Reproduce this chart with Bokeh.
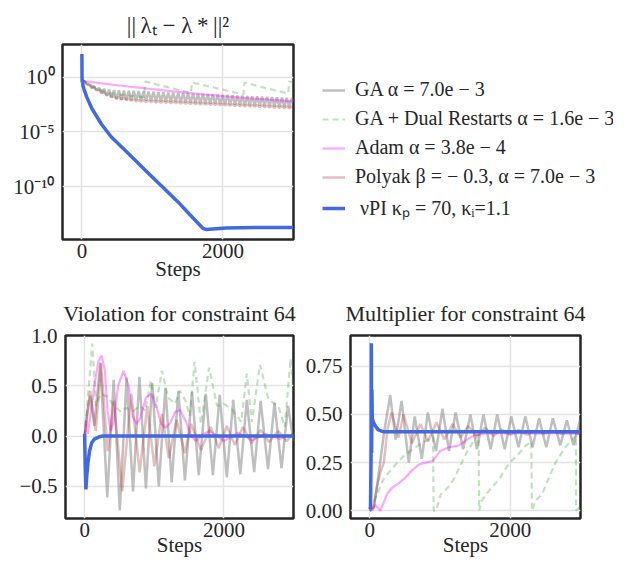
from bokeh.plotting import figure
from bokeh.models import Range1d, FixedTicker, CustomJSTickFormatter, Legend, LegendItem, Spacer
from bokeh.layouts import column, row
from bokeh.embed import file_html
from bokeh.resources import INLINE

FONT = "Liberation Serif"
TXT = "#262626"

# ---------------- data: top panel, ||lambda_t - lambda*||^2 (log10 values) ----------------
dist_steps = [0, 35, 70, 105, 140, 175, 210, 245, 280, 315, 350, 385, 420, 455, 490, 525, 560, 595,
              630, 665, 700, 735, 770, 805, 840, 875, 910, 945, 980, 1015, 1050, 1085, 1120, 1155,
              1190, 1225, 1260, 1295, 1330, 1365, 1400, 1435, 1470, 1505, 1540, 1575, 1610, 1645,
              1680, 1715, 1750, 1785, 1820, 1855, 1890, 1925, 1960, 1995, 2030, 2065, 2100, 2135,
              2170, 2205, 2240, 2275, 2310, 2345, 2380, 2415, 2450, 2485, 2520, 2555, 2590, 2625,
              2660, 2695, 2730, 2765, 2800, 2835, 2870, 2905, 2940, 2975, 3000]
ga_dist_log = [-0.25, -0.40, -0.68, -0.65, -1.00, -0.82, -1.25, -0.97, -1.52, -1.07, -1.72, -1.15,
               -1.89, -1.20, -2.02, -1.21, -2.06, -1.23, -2.08, -1.25, -2.10, -1.27, -2.12, -1.29,
               -2.14, -1.31, -2.16, -1.33, -2.18, -1.35, -2.20, -1.37, -2.22, -1.39, -2.24, -1.41,
               -2.26, -1.43, -2.28, -1.45, -2.30, -1.47, -2.32, -1.49, -2.34, -1.51, -2.36, -1.53,
               -2.38, -1.55, -2.40, -1.57, -2.42, -1.59, -2.44, -1.61, -2.46, -1.63, -2.48, -1.65,
               -2.50, -1.67, -2.52, -1.69, -2.54, -1.71, -2.56, -1.73, -2.58, -1.75, -2.60, -1.77,
               -2.62, -1.79, -2.64, -1.81, -2.66, -1.83, -2.68, -1.85, -2.70, -1.87, -2.72, -1.89,
               -2.74, -1.91, -2.30]
polyak_dist_log = [-0.25, -0.42, -0.62, -0.75, -0.92, -1.00, -1.15, -1.20, -1.38, -1.42, -1.60, -1.62,
                   -1.78, -1.78, -1.95, -1.84, -2.05, -1.90, -2.11, -1.96, -2.17, -2.02, -2.23, -2.07,
                   -2.26, -2.09, -2.28, -2.11, -2.30, -2.13, -2.32, -2.15, -2.34, -2.17, -2.36, -2.19,
                   -2.38, -2.21, -2.40, -2.23, -2.42, -2.25, -2.44, -2.27, -2.46, -2.29, -2.48, -2.31,
                   -2.50, -2.33, -2.52, -2.35, -2.54, -2.37, -2.56, -2.39, -2.58, -2.41, -2.60, -2.43,
                   -2.62, -2.45, -2.64, -2.47, -2.66, -2.49, -2.68, -2.51, -2.70, -2.53, -2.72, -2.55,
                   -2.74, -2.57, -2.76, -2.59, -2.78, -2.61, -2.80, -2.63, -2.82, -2.65, -2.84, -2.67,
                   -2.86, -2.69, -2.78]
gadr_dist_steps = [0, 185, 417, 700, 880, 900, 1200, 1545, 1560, 1900, 2290, 2305, 2600, 2925, 2940, 3000]
gadr_dist_log = [-0.25, -0.97, -1.50, -1.75, -1.85, -0.42, -0.90, -1.45, -0.50, -1.00, -1.60, -0.50,
                 -1.00, -1.50, -0.40, -0.50]
adam_dist_steps = [0, 500, 1000, 1500, 2000, 2500, 3000]
adam_dist_log = [-0.35, -0.75, -1.10, -1.45, -1.75, -2.00, -2.22]
nupi_dist_steps = [0, 2, 5, 10, 15, 30, 69, 139, 278, 417, 648, 880, 1111, 1366, 1532, 1718, 1764,
                   2042, 2500, 3000]
nupi_dist_log = [2.1, 0.0, -0.5, -0.3, -0.8, -1.1, -1.83, -2.85, -4.3, -5.46, -6.9, -8.37, -9.82,
                 -11.4, -12.55, -13.8, -13.88, -13.75, -13.7, -13.7]

# ---------------- data: violation for constraint 64 ----------------
ga_viol_steps = [0, 40, 80, 140, 225, 325, 417, 505, 602, 695, 787, 880, 970, 1065, 1160, 1250, 1347,
                 1440, 1542, 1639, 1740, 1842, 1940, 2042, 2134, 2236, 2329, 2435, 2528, 2634, 2727,
                 2828, 2921, 3000]
ga_viol = [0.0, 0.25, 0.40, 0.10, 0.73, -0.61, 0.56, -0.74, 0.58, -0.55, 0.59, -0.52, 0.53, -0.50,
           0.48, -0.46, 0.45, -0.44, 0.44, -0.39, 0.42, -0.39, 0.41, -0.41, 0.36, -0.38, 0.36,
           -0.36, 0.35, -0.33, 0.33, -0.32, 0.30, -0.05]
gadr_viol_steps = [0, 60, 110, 160, 230, 330, 420, 520, 600, 700, 800, 870, 950, 1020, 1110, 1200,
                   1300, 1370, 1450, 1510, 1579, 1671, 1787, 1903, 2000, 2111, 2250, 2329, 2402, 2518,
                   2643, 2782, 2875, 2958, 3000]
gadr_viol = [0.0, 0.50, 0.92, 0.30, 0.42, 0.39, 0.30, 0.24, 0.28, 0.25, 0.30, 0.25, 0.55, 0.28, 0.65,
             0.38, 0.32, 0.45, 0.35, 0.20, 0.74, 0.12, 0.68, 0.30, 0.32, 0.27, 0.14, 0.62, 0.14, 0.71,
             0.36, 0.30, 0.09, 0.77, 0.45]
adam_viol_steps = [0, 20, 45, 90, 150, 200, 245, 290, 330, 375, 420, 480, 560, 630, 690, 745, 800, 880,
                   950, 1030, 1100, 1160, 1230, 1300, 1370, 1450, 1530, 1600, 1700, 1800, 1900, 2000,
                   2100, 2200, 2300, 2400, 2500, 2600, 2700, 2800, 2900, 3000]
adam_viol = [0.0, 0.15, 0.02, 0.25, 0.55, 0.75, 0.80, 0.65, 0.25, 0.05, 0.15, 0.50, 0.65, 0.50, 0.20,
             0.12, 0.18, 0.38, 0.42, 0.30, 0.12, 0.08, 0.13, 0.24, 0.26, 0.15, 0.0, -0.05, 0.02, 0.05,
             0.0, -0.05, -0.01, 0.03, 0.0, -0.04, -0.01, 0.02, 0.0, -0.03, 0.0, 0.01]
polyak_viol_steps = [0, 80, 160, 235, 330, 420, 540, 670, 790, 900, 1000, 1110, 1210, 1320, 1440, 1530,
                     1670, 1810, 1926, 2042, 2157, 2273, 2400, 2528, 2650, 2780, 2900, 3000]
polyak_viol = [0.0, 0.45, 0.05, 0.72, -0.15, 0.35, -0.55, 0.42, -0.36, 0.30, -0.30, 0.22, -0.22, 0.16,
               -0.17, 0.12, -0.14, 0.09, -0.12, 0.10, -0.09, 0.09, -0.07, 0.06, -0.06, 0.05, -0.05, 0.03]
nupi_viol_steps = [0, 8, 18, 30, 50, 70, 100, 140, 200, 260, 3000]
nupi_viol = [0.02, -0.30, -0.53, -0.40, -0.25, -0.15, -0.07, -0.03, -0.01, 0.0, 0.0]

# ---------------- data: multiplier for constraint 64 ----------------
ga_mult_steps = [0, 60, 130, 200, 290, 368, 452, 555, 639, 741, 825, 942, 1035, 1128, 1221, 1330, 1432,
                 1525, 1618, 1720, 1814, 1921, 2014, 2117, 2214, 2317, 2410, 2513, 2606, 2713, 2806,
                 2900, 2993, 3000]
ga_mult = [0.0, 0.02, 0.20, 0.40, 0.60, 0.37, 0.57, 0.25, 0.49, 0.27, 0.51, 0.31, 0.53, 0.31, 0.51,
           0.32, 0.50, 0.32, 0.50, 0.32, 0.50, 0.32, 0.49, 0.33, 0.49, 0.33, 0.48, 0.33, 0.48, 0.34,
           0.47, 0.34, 0.47, 0.46]
gadr_mult_steps = [0, 103, 196, 336, 499, 685, 825, 900, 909, 942, 1012, 1105, 1198, 1291, 1385, 1478,
                   1550, 1557, 1595, 1665, 1760, 1851, 1991, 2107, 2224, 2300, 2308, 2363, 2457, 2550,
                   2643, 2783, 2923, 2935, 2937, 2993, 3000]
gadr_mult = [0.0, 0.086, 0.165, 0.228, 0.291, 0.338, 0.369, 0.385, 0.0, 0.0, 0.086, 0.118, 0.165,
             0.236, 0.307, 0.362, 0.393, 0.0, 0.053, 0.09, 0.13, 0.17, 0.25, 0.29, 0.34, 0.36, 0.0,
             0.053, 0.09, 0.17, 0.25, 0.33, 0.385, 0.39, 0.0, 0.02, 0.03]
adam_mult_steps = [0, 40, 80, 150, 250, 320, 400, 500, 600, 700, 800, 900, 1000, 1130, 1270, 1385, 1480,
                   1620, 1800, 2000, 2200, 2400, 2600, 2800, 3000]
adam_mult = [0.0, 0.01, 0.03, 0.0, 0.09, 0.12, 0.14, 0.17, 0.21, 0.24, 0.25, 0.26, 0.31, 0.33, 0.34,
             0.37, 0.39, 0.40, 0.405, 0.40, 0.405, 0.40, 0.405, 0.40, 0.40]
polyak_mult_steps = [0, 50, 100, 150, 200, 250, 310, 410, 480, 600, 720, 830, 950, 1060, 1180, 1290,
                     1400, 1520, 1640, 1760, 1880, 2000, 2120, 2240, 2360, 2480, 2600, 2720, 2840, 2960,
                     3000]
polyak_mult = [0.0, 0.01, 0.12, 0.20, 0.25, 0.42, 0.51, 0.38, 0.50, 0.35, 0.45, 0.36, 0.46, 0.37, 0.45,
               0.38, 0.44, 0.39, 0.43, 0.39, 0.42, 0.395, 0.42, 0.395, 0.415, 0.40, 0.415, 0.40, 0.41,
               0.40, 0.40]
nupi_mult_steps = [0, 10, 18, 22, 26, 30, 35, 50, 80, 120, 200, 400, 3000]
nupi_mult = [0.02, 0.01, 0.30, 0.87, 0.30, 0.63, 0.48, 0.46, 0.44, 0.42, 0.41, 0.41, 0.41]

legend_labels = ["GA \u03b1 = 7.0e \u2212 3",
                 "GA + Dual Restarts \u03b1 = 1.6e \u2212 3",
                 "Adam \u03b1 = 3.8e \u2212 4",
                 "Polyak \u03b2 = \u2212 0.3, \u03b1 = 7.0e \u2212 3",
                 " \u03bdPI \u03ba\u209a = 70, \u03ba\u1d62=1.1"]

STY = {
    "ga": dict(line_color="#7f7f7f", line_alpha=0.5, line_width=2.5),
    "gadr": dict(line_color="#2ca02c", line_alpha=0.3, line_width=2.2, line_dash="6 4"),
    "adam": dict(line_color="#ff00ff", line_alpha=0.35, line_width=2.2),
    "polyak": dict(line_color="#a52a2a", line_alpha=0.3, line_width=2.5),
    "nupi": dict(line_color="#4169e1", line_alpha=1.0, line_width=3.5),
}
ORDER = ["ga", "gadr", "adam", "polyak", "nupi"]

SUP = ("const e = Math.round(Math.log10(tick));"
       "const m = {'-':'\u207b','0':'\u2070','1':'\u00b9','2':'\u00b2','3':'\u00b3','4':'\u2074',"
       "'5':'\u2075','6':'\u2076','7':'\u2077','8':'\u2078','9':'\u2079'};"
       "return '10' + String(e).split('').map(c => m[c]).join('');")


def make(width, height, yr, yticks, ylog, fmt, title, left, right, top, bottom,
         title_standoff, title_size, label_standoff):
    p = figure(width=width, height=height, x_range=Range1d(-275, 3000), y_range=yr,
               y_axis_type="log" if ylog else "linear",
               output_backend="svg", toolbar_location=None,
               min_border_left=left, min_border_right=right, min_border_top=top, min_border_bottom=bottom)
    p.background_fill_color = "white"
    p.border_fill_color = "white"
    p.outline_line_color = TXT
    p.outline_line_width = 2.5
    p.outline_line_alpha = 1.0
    xt = FixedTicker(ticks=[0, 2000], minor_ticks=[])
    yt = FixedTicker(ticks=yticks, minor_ticks=[])
    p.xaxis.ticker = xt
    p.yaxis.ticker = yt
    p.xgrid.ticker = xt
    p.ygrid.ticker = yt
    p.yaxis.formatter = CustomJSTickFormatter(code=fmt)
    for ax in (p.xaxis[0], p.yaxis[0]):
        ax.axis_line_color = None
        ax.major_tick_line_color = None
        ax.minor_tick_line_color = None
        ax.major_tick_out = 0
        ax.major_tick_in = 0
        ax.minor_tick_out = 0
        ax.major_label_text_font = FONT
        ax.major_label_text_font_size = "21px"
        ax.major_label_text_color = TXT
    p.xaxis.major_label_standoff = 4
    p.yaxis.major_label_standoff = 8
    p.xaxis.axis_label = "Steps"
    p.xaxis.axis_label_text_font = FONT
    p.xaxis.axis_label_text_font_size = "21px"
    p.xaxis.axis_label_text_font_style = "normal"
    p.xaxis.axis_label_text_color = TXT
    p.xaxis.axis_label_standoff = label_standoff
    for g in (p.xgrid[0], p.ygrid[0]):
        g.grid_line_color = "#e3e3e3"
        g.grid_line_width = 1.5
    p.title.text = title
    p.title.align = "center"
    p.title.text_font = FONT
    p.title.text_font_size = title_size
    p.title.text_font_style = "normal"
    p.title.text_color = TXT
    p.title.standoff = title_standoff
    return p


# top panel
p1 = make(291, 281, Range1d(10 ** -14.8, 10 ** 2.96), [1e-10, 1e-5, 1.0], True, SUP,
          "||\u2009\u03bb\u209c \u2212 \u03bb\u2009*\u2009||\u00b2", 49, 8, 31, 46, 13, "23px", -4)
p1.line(dist_steps, [10 ** v for v in ga_dist_log], **STY["ga"])
p1.line(gadr_dist_steps, [10 ** v for v in gadr_dist_log], **STY["gadr"])
p1.line(adam_dist_steps, [10 ** v for v in adam_dist_log], **STY["adam"])
p1.line(dist_steps, [10 ** v for v in polyak_dist_log], **STY["polyak"])
p1.line(nupi_dist_steps, [10 ** v for v in nupi_dist_log], **STY["nupi"])

# legend panel (its own canvas, right of the top plot)
pl = figure(width=312, height=281, x_axis_location=None, y_axis_location=None,
            output_backend="svg", toolbar_location=None, min_border=0,
            x_range=Range1d(0, 1), y_range=Range1d(0, 1))
pl.outline_line_color = None
pl.xgrid.visible = False
pl.ygrid.visible = False
pl.background_fill_color = "white"
pl.border_fill_color = "white"
leg_renderers = [pl.line([-5, -4], [-5, -4], **STY[k]) for k in ORDER]
legend = Legend(items=[LegendItem(label=l, renderers=[r]) for l, r in zip(legend_labels, leg_renderers)],
                location=(11, 8))
legend.glyph_width = 23
legend.glyph_height = 20
legend.label_height = 20
legend.label_standoff = 10
legend.spacing = 6
legend.padding = 10
legend.margin = 0
legend.background_fill_alpha = 0
legend.border_line_alpha = 0
legend.label_text_font = FONT
legend.label_text_font_size = "20px"
legend.label_text_color = TXT
pl.add_layout(legend)

# bottom-left: violation
p2 = make(283, 273, Range1d(-0.82, 1.0), [-0.5, 0.0, 0.5, 1.0], False,
          "return tick.toFixed(1).replace('-', '\u2212');",
          "Violation for constraint 64", 42, 6, 37, 43, 20, "22px", -7)
p2.line(ga_viol_steps, ga_viol, **STY["ga"])
p2.line(gadr_viol_steps, gadr_viol, **STY["gadr"])
p2.line(adam_viol_steps, adam_viol, **STY["adam"])
p2.line(polyak_viol_steps, polyak_viol, **STY["polyak"])
p2.line(nupi_viol_steps, nupi_viol, **STY["nupi"])

# bottom-right: multiplier
p3 = make(304, 273, Range1d(-0.04, 0.91), [0.0, 0.25, 0.5, 0.75], False,
          "return tick.toFixed(2);",
          "Multiplier for constraint 64", 42, 26, 37, 43, 20, "22px", -7)
p3.line(ga_mult_steps, ga_mult, **STY["ga"])
p3.line(gadr_mult_steps, gadr_mult, **STY["gadr"])
p3.line(adam_mult_steps, adam_mult, **STY["adam"])
p3.line(polyak_mult_steps, polyak_mult, **STY["polyak"])
p3.line(nupi_mult_steps, nupi_mult, **STY["nupi"])

top_row = row(Spacer(width=10, height=281), p1, pl, spacing=0)
bottom_row = row(Spacer(width=16, height=273), p2, Spacer(width=3, height=273), p3, spacing=0)
layout = column(Spacer(width=10, height=4), top_row, Spacer(width=10, height=3), bottom_row, spacing=0)
open("out.html", "w").write(file_html(layout, INLINE))
